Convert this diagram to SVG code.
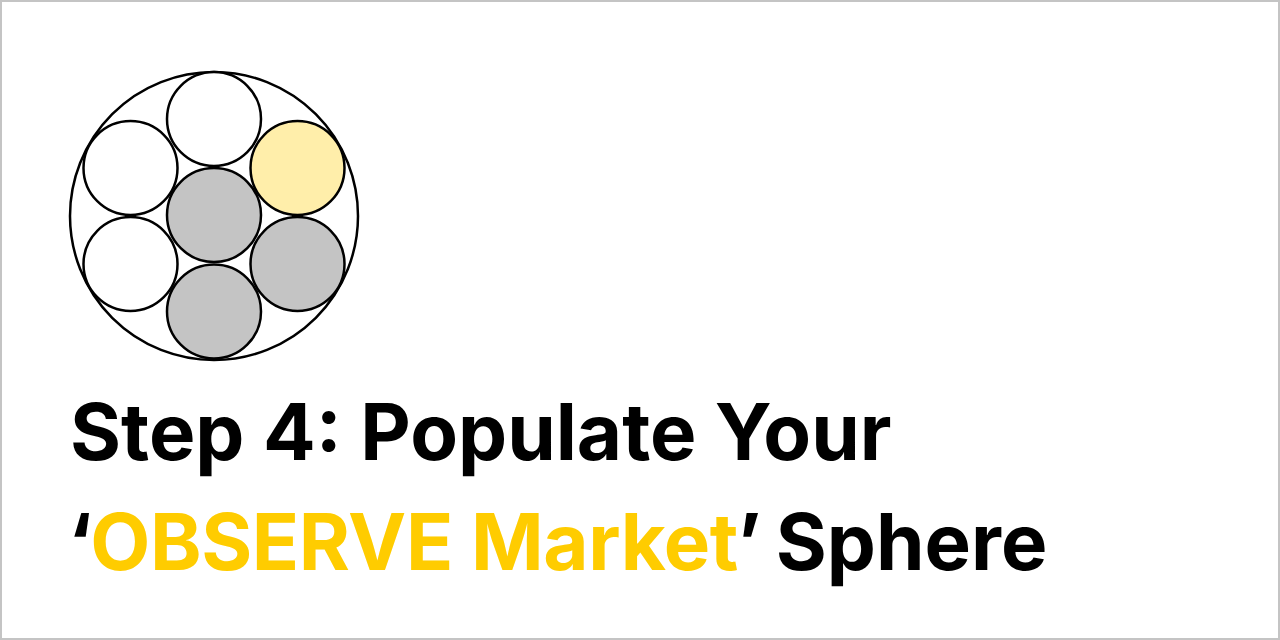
<svg xmlns="http://www.w3.org/2000/svg" width="1280" height="640" viewBox="0 0 1280 640">
<style>
.c{stroke:#000;stroke-width:2.5}
.w{fill:#fff}.g{fill:#c4c4c4}.y{fill:#ffeeaa}
.t{font-family:Inter,"Liberation Sans",sans-serif;font-weight:700;font-size:78px;fill:#000}
.hl{fill:#ffcc00;letter-spacing:-0.4px}
</style>
<rect x="1" y="1" width="1278" height="638" fill="#fff" stroke="#c4c4c4" stroke-width="2"/>
<g id="sphere">
<circle class="c w" cx="214" cy="216" r="144"/>
<circle class="c w" cx="214" cy="119" r="47"/>
<circle class="c w" cx="130.5" cy="168" r="47"/>
<circle class="c y" cx="297.5" cy="168" r="47"/>
<circle class="c g" cx="214" cy="215" r="47"/>
<circle class="c w" cx="130.5" cy="264" r="47"/>
<circle class="c g" cx="297.5" cy="264" r="47"/>
<circle class="c g" cx="214" cy="311.5" r="47"/>
</g>
<g id="title">
<text class="t" x="70" y="460">Step 4: Populate Your</text>
<text class="t" x="68" y="570">‘<tspan class="hl" dx="-2">OBSERVE Market</tspan><tspan dx="-1">’</tspan><tspan dx="-4"> Sphere</tspan></text>
</g>
</svg>
